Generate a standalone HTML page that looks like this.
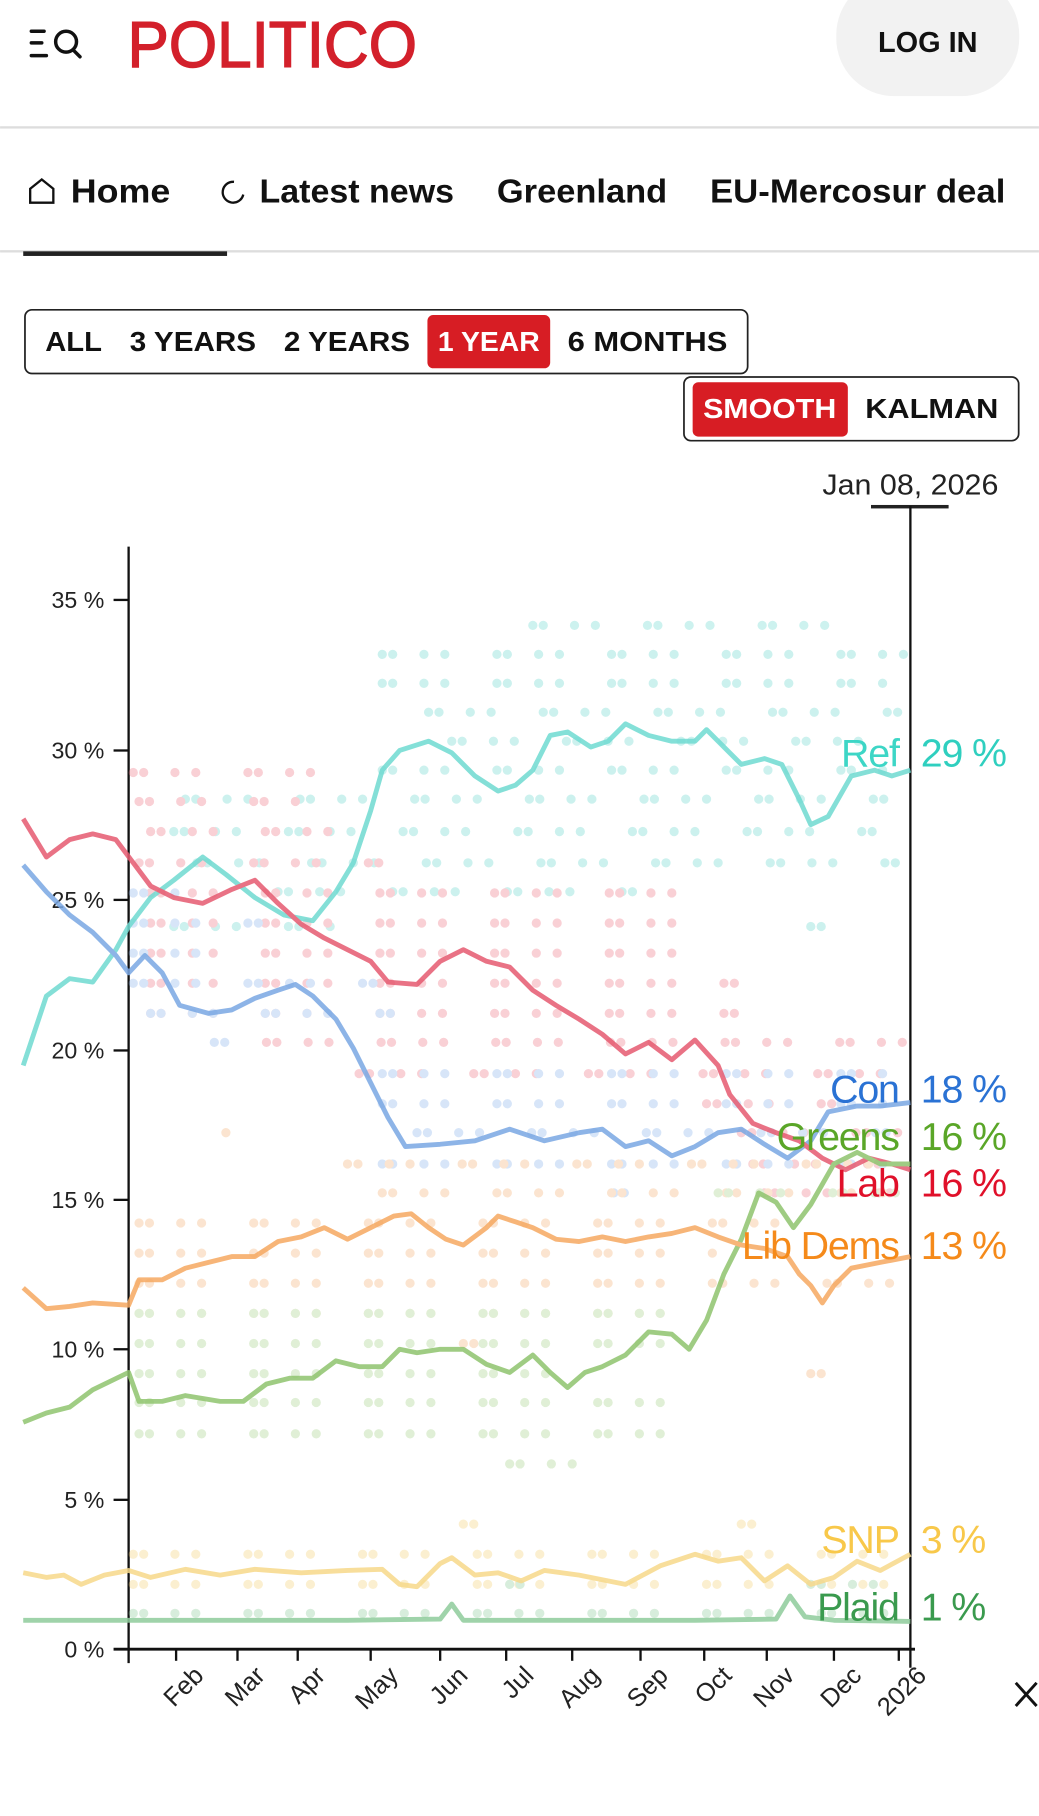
<!DOCTYPE html>
<html><head><meta charset="utf-8"><style>
html,body{margin:0;padding:0;background:#fff;}
svg{display:block;font-family:"Liberation Sans",sans-serif;}
</style></head><body>
<svg width="1039" height="1816" viewBox="0 0 897 1568" xmlns="http://www.w3.org/2000/svg">
<g stroke="#111" stroke-width="3" stroke-linecap="round" fill="none">
<line x1="27" y1="27" x2="38" y2="27"/><line x1="27" y1="37" x2="36" y2="37"/><line x1="27" y1="48" x2="40" y2="48"/>
<circle cx="57" cy="36" r="9"/><line x1="63" y1="43" x2="69" y2="49"/>
</g>
<text x="110" y="58" font-size="56" fill="#d3202b" stroke="#d3202b" stroke-width="1.2" textLength="250" lengthAdjust="spacingAndGlyphs">POLITICO</text>
<rect x="722" y="-20" width="158" height="103" rx="50" fill="#f2f2f2"/>
<text x="801" y="45" font-size="25" text-anchor="middle" fill="#111" font-weight="bold" textLength="86" lengthAdjust="spacingAndGlyphs">LOG IN</text>
<rect x="0" y="109" width="897" height="2" fill="#ddd"/>
<g font-size="29" fill="#111" font-weight="bold">
<path d="M26 175 V163 L36 155 L46 163 V175 Z" fill="none" stroke="#111" stroke-width="2"/>
<text x="61" y="175" textLength="86" lengthAdjust="spacingAndGlyphs">Home</text>
<path d="M202 157 A9 9 0 1 0 210 168" fill="none" stroke="#111" stroke-width="2"/>
<text x="224" y="175" textLength="168" lengthAdjust="spacingAndGlyphs">Latest news</text>
<text x="429" y="175" textLength="147" lengthAdjust="spacingAndGlyphs">Greenland</text>
<text x="613" y="175" textLength="255" lengthAdjust="spacingAndGlyphs">EU-Mercosur deal</text>
</g>
<rect x="0" y="216" width="897" height="2" fill="#ddd"/>
<rect x="20" y="217" width="176" height="4" fill="#222"/>
<rect x="21.5" y="267.5" width="624" height="55" rx="6" fill="#fff" stroke="#222" stroke-width="1.5"/>
<rect x="369" y="272" width="106" height="46" rx="5" fill="#d71d24"/>
<g font-size="24" font-weight="bold" fill="#111">
<text x="39" y="303" textLength="49" lengthAdjust="spacingAndGlyphs">ALL</text><text x="112" y="303" textLength="109" lengthAdjust="spacingAndGlyphs">3 YEARS</text><text x="245" y="303" textLength="109" lengthAdjust="spacingAndGlyphs">2 YEARS</text>
<text x="378" y="303" fill="#fff" textLength="88" lengthAdjust="spacingAndGlyphs">1 YEAR</text><text x="490" y="303" textLength="138" lengthAdjust="spacingAndGlyphs">6 MONTHS</text>
</g>
<rect x="590.5" y="325.5" width="289" height="55" rx="6" fill="#fff" stroke="#222" stroke-width="1.5"/>
<rect x="598" y="330" width="134" height="47" rx="5" fill="#d71d24"/>
<g font-size="24" font-weight="bold" fill="#111">
<text x="607" y="361" fill="#fff" textLength="115" lengthAdjust="spacingAndGlyphs">SMOOTH</text><text x="747" y="361" textLength="115" lengthAdjust="spacingAndGlyphs">KALMAN</text>
</g>
<text x="786" y="427" font-size="25" text-anchor="middle" fill="#222" textLength="152" lengthAdjust="spacingAndGlyphs">Jan 08, 2026</text>
<rect x="752" y="436" width="67" height="3" fill="#222"/>
<line x1="111" y1="472" x2="111" y2="1436" stroke="#111" stroke-width="2"/>
<line x1="786" y1="437" x2="786" y2="1440" stroke="#111" stroke-width="2"/>
<line x1="98" y1="1424" x2="790" y2="1424" stroke="#111" stroke-width="2.5"/>
<g stroke="#111" stroke-width="2">
<line x1="98" y1="1295" x2="111" y2="1295"/><line x1="98" y1="1165" x2="111" y2="1165"/><line x1="98" y1="1036" x2="111" y2="1036"/>
<line x1="98" y1="907" x2="111" y2="907"/><line x1="98" y1="777" x2="111" y2="777"/><line x1="98" y1="648" x2="111" y2="648"/><line x1="98" y1="518" x2="111" y2="518"/>
<line x1="152" y1="1424" x2="152" y2="1434"/><line x1="205" y1="1424" x2="205" y2="1434"/><line x1="257" y1="1424" x2="257" y2="1434"/><line x1="320" y1="1424" x2="320" y2="1434"/><line x1="380" y1="1424" x2="380" y2="1434"/><line x1="437" y1="1424" x2="437" y2="1434"/><line x1="494" y1="1424" x2="494" y2="1434"/><line x1="553" y1="1424" x2="553" y2="1434"/><line x1="608" y1="1424" x2="608" y2="1434"/><line x1="662" y1="1424" x2="662" y2="1434"/><line x1="720" y1="1424" x2="720" y2="1434"/><line x1="776" y1="1424" x2="776" y2="1434"/>
</g>
<g font-size="20" fill="#222" text-anchor="end">
<text x="90" y="1431">0 %</text><text x="90" y="1302">5 %</text><text x="90" y="1172">10 %</text><text x="90" y="1043">15 %</text><text x="90" y="914">20 %</text><text x="90" y="784">25 %</text><text x="90" y="655">30 %</text><text x="90" y="525">35 %</text>
</g>
<g font-size="22" fill="#222" text-anchor="end">
<text transform="translate(177,1448) rotate(-45)">Feb</text>
<text transform="translate(230,1448) rotate(-45)">Mar</text>
<text transform="translate(282,1448) rotate(-45)">Apr</text>
<text transform="translate(345,1448) rotate(-45)">May</text>
<text transform="translate(405,1448) rotate(-45)">Jun</text>
<text transform="translate(462,1448) rotate(-45)">Jul</text>
<text transform="translate(519,1448) rotate(-45)">Aug</text>
<text transform="translate(578,1448) rotate(-45)">Sep</text>
<text transform="translate(633,1448) rotate(-45)">Oct</text>
<text transform="translate(687,1448) rotate(-45)">Nov</text>
<text transform="translate(745,1448) rotate(-45)">Dec</text>
<text transform="translate(801,1448) rotate(-45)">2026</text>
</g>
<g stroke="#111" stroke-width="2.5"><line x1="877" y1="1453" x2="895" y2="1473"/><line x1="895" y1="1453" x2="877" y2="1473"/></g>
<g stroke-linecap="round" stroke-width="8" fill="none" opacity="0.35" stroke-dasharray="0 9 0 27 0 18 0 45">
<g stroke="#6fd9d0">
<path d="M330 565H790M460 540H720M330 590H780M370 615H780M390 640H760M330 665H780M160 690H780M150 718H780M170 745H780M240 770H560M150 800H300M700 800H720"/>
</g>
<g stroke="#f07a8a">
<path d="M115 667H300M120 692H260M130 718H320M120 745H330M130 771H600M130 797H620M130 823H620M130 849H640M130 875H660M230 900H780M310 927H780M610 953H740M640 978H780M650 1005H780M660 1030H780"/>
</g>
<g stroke="#8fb6ec">
<path d="M115 771H160M115 797H230M115 823H200M115 849H340M130 875H340M185 900H220M330 927H780M330 953H780M360 978H780M330 1005H780M530 1030H560"/>
</g>
<g stroke="#f5b57a">
<path d="M195 978H200M300 1005H780M330 1030H780M120 1056H700M120 1082H620M120 1108H780M120 1134H600M400 1160H420M700 1186H720"/>
</g>
<g stroke="#a7d48d">
<path d="M620 1030H780M120 1134H600M120 1160H600M120 1186H500M120 1211H600M120 1238H600M440 1264H500"/>
</g>
<g stroke="#f6d27a"><path d="M115 1342H780M115 1368H770M400 1316H410M640 1316H660"/></g>
<g stroke="#8fcc9c"><path d="M115 1393H780M440 1368H460M700 1368H780"/></g>
</g>
<g fill="none" stroke-width="4.2" stroke-linejoin="round" opacity="0.85">
<polyline stroke="#6fdad1" points="20,920 40,860 60,845 80,848 100,820 111,800 130,775 150,760 175,740 195,755 220,775 245,790 270,795 290,770 305,745 320,700 330,665 345,648 370,640 390,650 410,670 430,683 445,678 460,665 475,635 490,632 510,645 525,640 540,625 560,635 580,640 600,640 610,630 625,645 640,660 660,655 675,660 690,690 700,712 715,705 735,670 755,665 770,670 786,665"/>
<polyline stroke="#7aa7e3" points="20,747 40,770 60,790 80,805 100,825 111,840 125,825 140,840 155,868 180,875 200,872 220,862 240,855 255,850 270,860 290,880 305,905 320,935 335,965 350,990 380,988 410,985 440,975 470,985 500,978 520,975 540,990 560,985 580,998 600,990 620,978 640,975 660,988 680,1000 700,985 715,960 740,955 760,955 786,952"/>
<polyline stroke="#e65a70" points="20,707 40,740 60,725 80,720 100,725 115,745 130,765 150,775 175,780 200,768 220,760 240,780 260,798 280,810 300,820 320,830 335,848 360,850 380,830 400,820 420,830 440,835 460,855 480,868 500,880 520,893 540,910 560,900 580,915 600,898 620,920 630,945 650,970 670,978 690,985 710,1000 730,1010 750,1000 770,1005 786,1010"/>
<polyline stroke="#8fc46e" points="20,1228 40,1220 60,1215 80,1200 111,1185 120,1210 140,1210 160,1205 190,1210 210,1210 230,1195 250,1190 270,1190 290,1175 310,1180 330,1180 345,1165 360,1168 380,1165 400,1165 420,1178 440,1185 460,1170 475,1185 490,1198 505,1185 520,1180 540,1170 560,1150 580,1152 595,1165 610,1140 625,1100 640,1070 655,1030 670,1038 685,1060 700,1040 720,1005 740,995 760,1005 786,1005"/>
<polyline stroke="#f6a961" points="20,1112 40,1130 60,1128 80,1125 111,1127 120,1105 140,1105 160,1095 180,1090 200,1085 220,1085 240,1072 260,1068 280,1060 300,1070 320,1060 340,1050 355,1048 370,1060 385,1070 400,1075 420,1060 430,1050 445,1055 460,1060 480,1070 500,1072 520,1068 540,1072 560,1068 580,1065 600,1060 620,1068 640,1075 660,1078 680,1085 690,1100 700,1110 710,1125 720,1110 735,1095 760,1090 786,1085"/>
<polyline stroke="#f7d98a" points="20,1358 40,1362 55,1360 70,1368 90,1360 111,1356 130,1362 160,1355 190,1360 220,1355 260,1358 300,1356 330,1355 345,1368 360,1370 380,1350 390,1345 410,1360 430,1358 450,1365 470,1356 500,1360 540,1368 570,1352 600,1342 620,1348 640,1345 660,1365 680,1352 700,1368 720,1362 740,1348 760,1356 786,1342"/>
<polyline stroke="#8fcc9c" points="20,1399 100,1399 200,1399 300,1399 380,1398 390,1385 400,1399 500,1399 600,1399 670,1398 682,1378 695,1396 720,1399 786,1400"/>
</g>
<g font-size="34" font-weight="500" letter-spacing="-1">
<text x="776" y="662" text-anchor="end" fill="#3dd6c6">Ref</text><text x="795" y="662" fill="#2fcfbf">29 %</text>
<text x="776" y="952" text-anchor="end" fill="#2a72d4">Con</text><text x="795" y="952" fill="#2a72d4">18 %</text>
<text x="776" y="993" text-anchor="end" fill="#5aa628">Greens</text><text x="795" y="993" fill="#5aa628">16 %</text>
<text x="776" y="1033" text-anchor="end" fill="#e0102a">Lab</text><text x="795" y="1033" fill="#e0102a">16 %</text>
<text x="776" y="1087" text-anchor="end" fill="#f58a1a">Lib Dems</text><text x="795" y="1087" fill="#f58a1a">13 %</text>
<text x="776" y="1341" text-anchor="end" fill="#f8c84a">SNP</text><text x="795" y="1341" fill="#f8c84a">3 %</text>
<text x="776" y="1399" text-anchor="end" fill="#3a9a4e">Plaid</text><text x="795" y="1399" fill="#3a9a4e">1 %</text>
</g>
</svg>
</body></html>
